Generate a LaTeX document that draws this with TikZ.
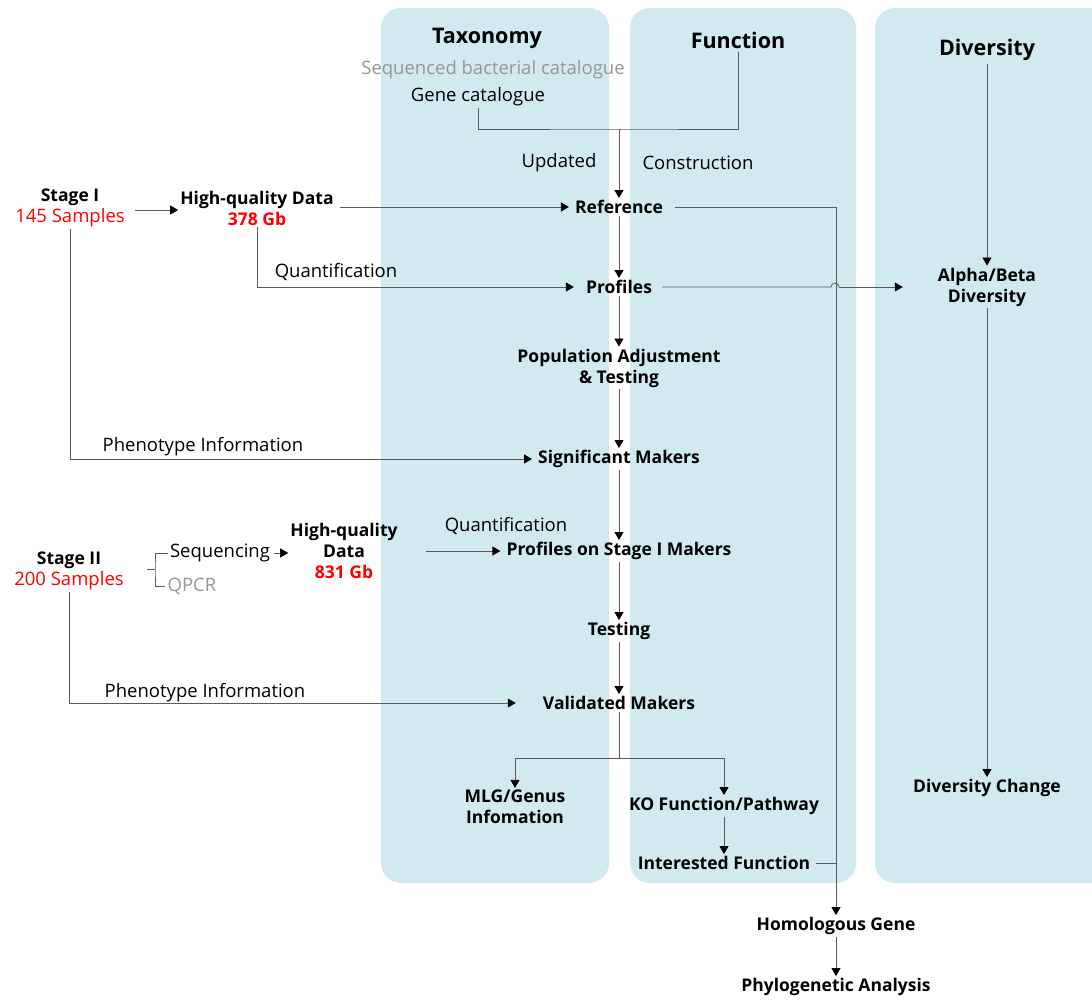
\documentclass[tikz,border=0pt]{standalone}
\usepackage{fontspec}
\setmainfont{Open Sans}
\usetikzlibrary{arrows.meta}
\definecolor{panelblue}{RGB}{208,234,240}
\definecolor{linegray}{RGB}{90,90,90}
\definecolor{softgray}{RGB}{150,150,150}
\newcommand{\redsmp}[1]{{\mdseries\fontsize{18.5}{21}\selectfont\color{red}#1}}
\begin{document}
\begin{tikzpicture}[x=1pt,y=-1pt,
  ln/.style={draw=linegray,line width=0.8pt},
  arr/.style={ln,-{Triangle[length=8pt,width=9pt]},arrows={[black]}},
  lbl/.style={font=\fontsize{18.5}{21}\selectfont,inner sep=2pt},
  blbl/.style={font=\bfseries\fontsize{17.5}{21}\selectfont,align=center,inner sep=2pt},
  head/.style={font=\bfseries\fontsize{21.5}{24}\selectfont},
  panel/.style={fill=panelblue,draw=none,rounded corners=20pt}]
\useasboundingbox (0,0) rectangle (1092,1000);
% panels
\path[panel] (381,8) rectangle (609,883);
\path[panel] (630,8) rectangle (856,883);
\path[panel] (875,8) rectangle (1112,883);
% headers
\node[head] (taxo) at (487,38) {Taxonomy};
\node[head] (func) at (738,40) {Function};
\node[head] (divers) at (987,50) {Diversity};
\node[lbl,text=softgray] (seqcat) at (493,70) {Sequenced bacterial catalogue};
\node[lbl] (genecat) at (478,97) {Gene catalogue};
\node[lbl] (upd) at (559,163) {Updated};
\node[lbl] (constr) at (698,163) {Construction};
% stage I
\node[blbl] (stageI) at (70,208) {Stage I\\\redsmp{145 Samples}};
\node[blbl] (hqI) at (257,208) {High-quality Data\\\color{red}378 Gb};
\node[blbl] (ref) at (619,207) {Reference};
\node[lbl] (quantI) at (336,272) {Quantification};
\node[blbl] (prof) at (619,287) {Profiles};
\node[blbl] (alphabeta) at (987,287) {Alpha/Beta\\Diversity};
\node[blbl] (popadj) at (619,368) {Population Adjustment\\\& Testing};
\node[lbl] (phenoI) at (203,447) {Phenotype Information};
\node[blbl] (sigmk) at (619,459) {Significant Makers};
% stage II
\node[blbl] (stageII) at (69,571) {Stage II\\\redsmp{200 Samples}};
\node[lbl] (seq) at (220,553) {Sequencing};
\node[lbl,text=softgray] (qpcr) at (192,586) {QPCR};
\node[blbl] (hqII) at (344,551) {High-quality\\Data\\\color{red}831 Gb};
\node[lbl] (quantII) at (506,526) {Quantification};
\node[blbl] (profstage) at (619,551) {Profiles on Stage I Makers};
\node[blbl] (testing) at (619,631) {Testing};
\node[lbl] (phenoII) at (205,693) {Phenotype Information};
\node[blbl] (valid) at (619,703) {Validated Makers};
\node[blbl] (mlg) at (515,807) {MLG/Genus\\Infomation};
\node[blbl] (ko) at (724,806) {KO Function/Pathway};
\node[blbl] (intfun) at (724,863) {Interested Function};
\node[blbl] (divchange) at (987,788) {Diversity Change};
\node[blbl] (homgene) at (836,926) {Homologous Gene};
\node[blbl] (phylo) at (836,987) {Phylogenetic Analysis};
% connectors
\coordinate (mrg) at (619,129);
\draw[ln] (genecat.south) |- (mrg) -| (func.south);
\draw[arr] (mrg) -- (ref.north);
\draw[arr,shorten <=8pt] (stageI.east |- 0,210) -- (hqI.west |- 0,210);
\draw[arr,shorten <=4pt,shorten >=4pt] (hqI.east |- ref.west) -- (ref.west);
\draw[arr,shorten <=10pt] (ref.east) -| (homgene.north);
\draw[arr] (ref.south) -- (prof.north);
\draw[arr,shorten >=10pt] (hqI.south) |- (prof.west);
\draw[ln,shorten <=8pt] (prof.east) -- (831,287) arc (180:0:4pt) coordinate (hop);
\draw[arr,shorten >=33pt] (hop) -- (alphabeta.west);
\draw[arr] (divers.south) -- (alphabeta.north);
\draw[arr] (alphabeta.south) -- (divchange.north);
\draw[arr] (prof.south) -- (popadj.north);
\draw[arr] (popadj.south) -- (sigmk.north);
\draw[arr,shorten >=4pt] (stageI.south) |- (sigmk.west);
\draw[arr] (sigmk.south) -- (profstage.north);
\coordinate (brk) at (155,569);
\draw[ln] (seq.west) -| (brk) |- (qpcr.west);
\draw[ln] (brk) -- ++(-8,0);
\draw[arr,shorten <=2pt] (seq.east) -- (hqII.west |- seq.east);
\draw[arr,shorten <=26pt,shorten >=4pt] (hqII.east |- profstage.west) -- (profstage.west);
\draw[arr] (profstage.south) -- (testing.north);
\draw[arr] (testing.south) -- (valid.north);
\draw[arr,shorten >=25pt] (stageII.south) |- (valid.west);
\coordinate (vsplit) at (619,758);
\draw[ln] (valid.south) -- (vsplit);
\draw[arr] (vsplit) -| (mlg.north);
\draw[arr] (vsplit) -| (ko.north);
\draw[arr] (ko.south) -- (intfun.north);
\draw[ln,shorten <=4pt] (intfun.east) -- (intfun.east -| homgene.north);
\draw[arr] (homgene.south) -- (phylo.north);
\end{tikzpicture}
\end{document}
